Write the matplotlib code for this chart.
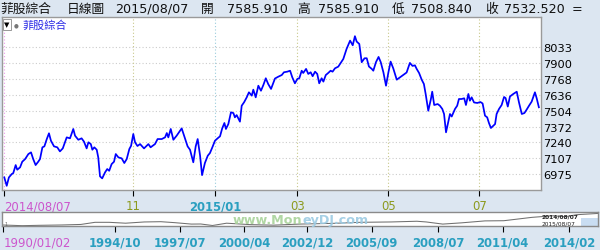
import matplotlib
matplotlib.use('Agg')
import matplotlib.pyplot as plt
from matplotlib.patches import Rectangle

plt.rcParams['font.family'] = ['DejaVu Sans', 'Noto Sans CJK TC']

# ---------------- data ----------------
title_name = "菲股綜合"
header_parts = ["菲股綜合", "日線圖", "2015/08/07", "開", "7585.910", "高", "7585.910",
                "低", "7508.840", "收", "7532.520", "="]

# trading-day index since 2014/08/07 and close values
days = [0, 1.1, 2.1, 3.4, 4.1, 5.2, 5.9, 7.2, 8.2, 9.5, 11.0, 12.2, 13.2, 14.3, 15.5, 16.3, 17.4,
        18.3, 19.4, 20.4, 21.3, 22.7, 24.2, 25.4, 26.7, 28.5, 30.0, 31.5, 32.3, 33.8, 35.3, 36.4,
        37.6, 38.4, 39.5, 40.2, 41.1, 42.2, 42.9, 43.7, 44.7, 46.0, 47.0, 47.9, 49.0, 50.1, 50.9,
        52.1, 53.6, 54.8, 55.9, 57.1, 57.9, 58.9, 59.7, 60.8,
        62.0, 63.8, 65.8, 66.8, 68.8, 70.0, 71.9, 73.4, 74.2, 74.9, 76.0, 77.2, 78.7, 81.0, 82.5,
        83.7, 84.8, 86.3, 87.4, 88.3, 89.4, 90.3, 91.6, 92.9, 93.9, 95.0, 96.2, 97.4, 98.5, 99.5,
        100.5, 101.2, 102.3, 103.5, 104.6, 105.3, 106.1, 107.6, 108.4, 109.5, 110.7, 111.7, 113.0,
        113.7, 114.8, 116.0, 117.2, 118.3, 119.4, 120.5, 121.8,
        123.6, 125.1, 126.7, 127.7, 129.2, 130.5, 131.5, 132.7, 133.8, 134.7, 135.8, 136.5, 137.8,
        138.8, 139.9, 140.8, 141.9, 142.9, 143.8, 144.9, 145.7, 146.8, 147.9, 149.0, 149.9, 151.0,
        152.5, 153.6, 154.8, 156.3, 157.9, 159.1, 160.1, 160.9, 162.1, 163.2, 164.5, 165.5, 166.5,
        167.8, 168.5, 169.7, 170.9, 171.9, 173.1, 174.3, 175.4, 176.4, 177.6, 179.2, 180.7, 182.2,
        183.7, 185.2, 186.4, 187.5, 188.3, 189.4, 190.6, 191.6, 192.4, 193.6, 194.8, 195.4, 196.3,
        197.9, 198.9, 200.0, 200.8, 201.7, 202.7, 203.5, 204.3, 205.8, 206.8, 207.6, 208.8, 210.0,
        210.8, 211.9, 212.6, 213.4, 214.5, 216.0, 217.4, 218.4, 219.5, 220.5, 221.3, 222.2, 223.3,
        224.1, 224.8, 225.9, 227.1, 228.2, 228.9, 229.9, 230.9, 232.4, 234.0, 235.0, 236.3, 237.5,
        238.5, 239.6, 240.8, 242.3, 243.1, 244.1]
values = [6948, 6878, 6948, 6976, 6984, 7051, 7012, 7032, 7079, 7101, 7143, 7157, 7101, 7051, 7079,
          7101, 7199, 7207, 7268, 7316, 7254, 7207, 7199, 7165, 7190, 7282, 7274, 7352, 7296, 7262,
          7274, 7246, 7190, 7241, 7226, 7179, 7199, 7179, 7115, 6957, 6940, 6990, 7018, 7003, 7059,
          7079, 7143, 7115, 7107, 7068, 7101, 7185, 7212, 7310, 7241, 7210,
          7226, 7190, 7226, 7199, 7226, 7268, 7268, 7282, 7318, 7282, 7352, 7262, 7296, 7357, 7274,
          7207, 7179, 7074, 7207, 7268, 7129, 6967, 7068, 7129, 7151, 7199, 7254, 7274, 7291, 7357,
          7402, 7352, 7393, 7491, 7485, 7449, 7468, 7413, 7546, 7575, 7616, 7658, 7630, 7680, 7616,
          7713, 7671, 7719, 7775, 7727, 7686,
          7773, 7788, 7802, 7825, 7830, 7838, 7783, 7733, 7769, 7775, 7838, 7819, 7853, 7811, 7825,
          7792, 7830, 7811, 7733, 7775, 7747, 7802, 7819, 7838, 7830, 7858, 7872, 7903, 7936, 8020,
          8089, 8050, 8126, 8081, 8061, 7909, 7942, 7942, 7873, 7853, 7838, 7909, 7953, 7909, 7825,
          7713, 7825, 7914, 7858, 7763, 7783, 7802, 7823, 7903, 7878, 7883, 7853, 7819, 7763, 7727,
          7644, 7504, 7602, 7663, 7552, 7560, 7546, 7519, 7477, 7324, 7410, 7477, 7456, 7519, 7546,
          7602, 7602, 7608, 7552, 7644, 7588, 7616, 7573, 7569, 7577, 7565, 7463, 7449, 7402, 7360,
          7379, 7393, 7477, 7519, 7552, 7619, 7610, 7539, 7623, 7644, 7663, 7575, 7477, 7485, 7513,
          7546, 7580, 7658, 7608, 7533]

y_ticks = [6975, 7107.25, 7239.5, 7371.75, 7504, 7636.25, 7768.5, 7900.75, 8033]
y_labels = ["6975", "7107", "7240", "7372", "7504", "7636", "7768", "7900", "8033"]

x_tick_pos = [0, 58.9, 96.3, 133.8, 175.3, 216.9]
x_tick_labels = ["2014/08/07", "11", "2015/01", "03", "05", "07"]
x_tick_kind = ["start", "month", "year", "month", "month", "month"]

# navigator (long-term history)
nav_years = [1990.0, 1990.8, 1991.5, 1992.5, 1993.3, 1993.9, 1994.5, 1995.2, 1996.0, 1996.7,
             1997.3, 1998.0, 1998.4, 1998.9, 1999.5, 2000.5, 2001.5, 2002.6, 2004.0, 2005.2,
             2006.5, 2007.6, 2008.0, 2008.7, 2009.5, 2010.5, 2011.3, 2012.5, 2013.4, 2013.9,
             2014.4, 2015.3]
nav_values = [1280, 900, 1100, 1300, 1600, 2800, 2800, 2300, 3000, 3150,
              2600, 1800, 1850, 1000, 2300, 1500, 1200, 1800, 2200, 2800,
              3000, 3400, 3000, 1800, 2500, 3600, 3700, 5600, 6500, 5900,
              7100, 7800]
nav_tick_pos = [1990.0, 1994.75, 1997.5, 2000.25, 2002.92, 2005.67, 2008.5, 2011.25, 2014.08]
nav_tick_labels = ["1990/01/02", "1994/10", "1997/07", "2000/04", "2002/12", "2005/09",
                   "2008/07", "2011/04", "2014/02"]
nav_range_labels = ["2014/08/07", "2015/08/07"]
watermark_parts = ["www.Mon", "eyDJ.com"]

# ---------------- style ----------------
BG = '#DCE6F1'
MAGENTA = '#CC55CC'
OLIVE = '#8C9A1E'
TEAL = '#2A9FC0'
kind_color = {"start": MAGENTA, "month": OLIVE, "year": TEAL}
grid_color = {"start": '#EE99EE', "month": '#C8C88A', "year": '#99CCDD'}

W, H = 600, 251
fig = plt.figure(figsize=(6.0, 2.51), dpi=100)
fig.patch.set_facecolor(BG)


def fx(px):
    return px / W


def fy(py):
    return 1 - py / H


# ---------------- main chart ----------------
ax = fig.add_axes([fx(2), fy(191), fx(541) - fx(2), fy(18) - fy(191)])
ax.set_facecolor('white')
ax.plot(days, values, color='#0000FF', lw=1.25, zorder=3)
ax.set_xlim(-1.05, 245.07)
ax.set_ylim(6843, 8286)

ax.yaxis.tick_right()
ax.set_yticks(y_ticks)
ax.set_yticklabels(y_labels)
ax.tick_params(axis='y', length=0, pad=1.5, labelsize=8.2, colors='black')
for yv in y_ticks:
    ax.axhline(yv, color='#CCCCCC', lw=0.8, ls=(0, (1, 2)), zorder=1)

ax.set_xticks(x_tick_pos)
ax.set_xticklabels(x_tick_labels)
ax.tick_params(axis='x', length=4.3, width=0.8, pad=2.5, labelsize=8.4)
for pos, kind in zip(x_tick_pos, x_tick_kind):
    ax.axvline(pos, color=grid_color[kind], lw=0.8, ls=(0, (1, 2)), zorder=1)
for lbl, tick, kind in zip(ax.get_xticklabels(), ax.xaxis.get_major_ticks(), x_tick_kind):
    lbl.set_color(kind_color[kind])
    tick.tick1line.set_color(grid_color[kind] if kind != "year" else TEAL)
    if kind == "year":
        lbl.set_fontweight('bold')
    if kind == "start":
        lbl.set_horizontalalignment('left')
for sp in ax.spines.values():
    sp.set_color('#9A9A9A')
    sp.set_linewidth(1.0)

# legend inside chart
fig.add_artist(Rectangle((fx(3), fy(31)), fx(8), fy(20) - fy(31), transform=fig.transFigure,
                         facecolor='white', edgecolor='#888888', lw=0.6))
fig.text(fx(7), fy(25), "▼", fontsize=5, ha='center', va='center', color='black')
fig.text(fx(16), fy(25.5), "●", fontsize=4, ha='center', va='center', color='#777777')
fig.text(fx(22), fy(25.5), title_name, fontsize=8, ha='left', va='center', color='#2B2BE6')

# header
header_x = [0, 67, 115, 201, 226.5, 297, 318, 391.5, 411.5, 485, 504, 571.5]
for px, txt in zip(header_x, header_parts):
    fig.text(fx(px), fy(9.3), txt, fontsize=9.2, ha='left', va='center', color='#111111')

# ---------------- navigator ----------------
nav = fig.add_axes([fx(2), fy(227.3), fx(598) - fx(2), fy(213.3) - fy(227.3)])
nav.set_facecolor('white')
nav.set_xlim(1989.94, 2015.31)
nav.set_ylim(550, 8450)
nav.axvspan(2014.6, 2015.31, ymin=0, ymax=0.62, color='#C9DDF2', lw=0, zorder=1)
nav.plot(nav_years, nav_values, color='#707070', lw=0.75, zorder=2)
nav.set_yticks([])
nav.set_xticks(nav_tick_pos)
nav.set_xticklabels(nav_tick_labels)
nav.tick_params(axis='x', length=4.5, width=0.8, pad=2.2, labelsize=8.4)
for i, (lbl, tick) in enumerate(zip(nav.get_xticklabels(), nav.xaxis.get_major_ticks())):
    if i == 0:
        lbl.set_color(MAGENTA)
        lbl.set_horizontalalignment('left')
        tick.tick1line.set_color('#EE99EE')
    else:
        lbl.set_color(TEAL)
        lbl.set_fontweight('bold')
        tick.tick1line.set_color('#7FC0D8')
for sp in nav.spines.values():
    sp.set_color('#8A8A8A')
    sp.set_linewidth(1.0)

# watermark (two colours, contiguous) and range text inside navigator
renderer = fig.canvas.get_renderer()
t1 = fig.text(fx(233), fy(221), watermark_parts[0], fontsize=9.2, fontweight='bold',
              color='#A9D39A', ha='left', va='center', alpha=0.9)
bb = t1.get_window_extent(renderer)
x_next = bb.x1 / (fig.get_figwidth() * fig.dpi)
fig.text(x_next, fy(221), watermark_parts[1], fontsize=9.2, fontweight='bold',
         color='#9CCBE3', ha='left', va='center', alpha=0.9)
fig.text(fx(542), fy(216.6), nav_range_labels[0], fontsize=4.2, color='#222222',
         ha='left', va='center', fontweight='bold')
fig.text(fx(542), fy(223.8), nav_range_labels[1], fontsize=4.2, color='#222222',
         ha='left', va='center')
fig.text(fx(6.5), fy(224.5), "1", fontsize=3.5, color='#666666', ha='center', va='center')

fig.savefig('out.png', dpi=100, facecolor=BG)
